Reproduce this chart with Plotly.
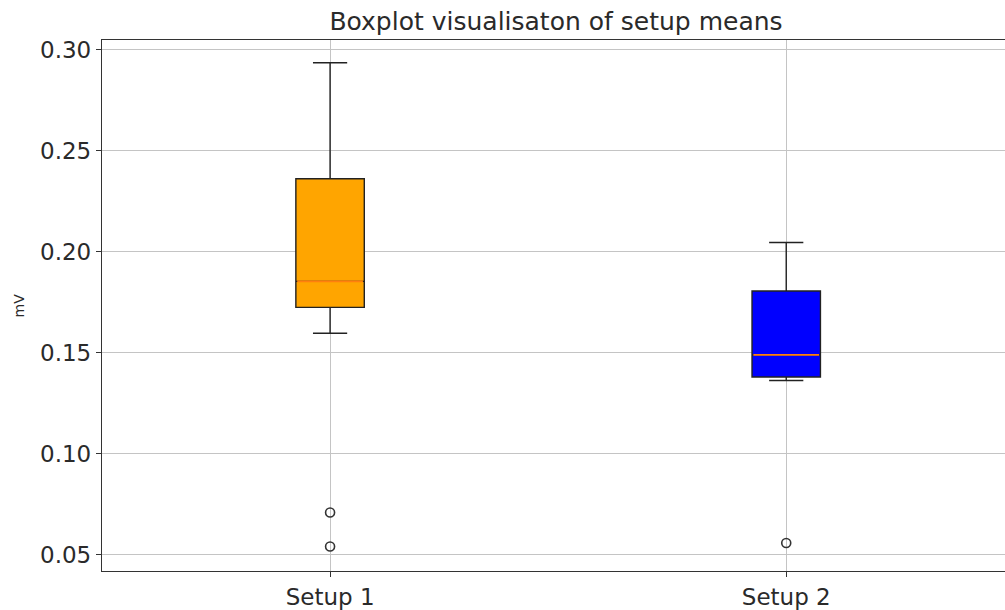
import plotly.graph_objects as go

# Data
setups = ["Setup 1", "Setup 2"]
positions = [1, 2]
q1 = [0.1725, 0.1380]
median = [0.1854, 0.1490]
q3 = [0.2362, 0.1806]
lower_whisker = [0.1597, 0.1363]
upper_whisker = [0.2936, 0.2046]
outliers_setup1 = [0.0709, 0.0541]
outliers_setup2 = [0.0558]
fill_colors = ["orange", "blue"]
y_ticks = [0.05, 0.10, 0.15, 0.20, 0.25, 0.30]

BOX_W = 0.15
FONT = "DejaVu Sans"
TXT = "#2a2a2a"

fig = go.Figure()

for i in range(len(setups)):
    fig.add_trace(go.Box(
        x=[positions[i]], q1=[q1[i]], median=[median[i]], q3=[q3[i]],
        lowerfence=[lower_whisker[i]], upperfence=[upper_whisker[i]],
        width=BOX_W, whiskerwidth=0.5, fillcolor=fill_colors[i],
        line=dict(color="#222222", width=1.4), boxpoints=False,
        showlegend=False, hoverinfo="skip",
    ))
    # median line in matplotlib orange
    fig.add_trace(go.Scatter(
        x=[positions[i] - BOX_W / 2 + 0.003, positions[i] + BOX_W / 2 - 0.003],
        y=[median[i], median[i]], mode="lines",
        line=dict(color="#ff7f0e", width=1.6), showlegend=False, hoverinfo="skip",
    ))

for pos, outs in zip(positions, [outliers_setup1, outliers_setup2]):
    fig.add_trace(go.Scatter(
        x=[pos] * len(outs), y=outs, mode="markers",
        marker=dict(symbol="circle-open", size=9, color="#333333",
                    line=dict(width=1.6, color="#333333")),
        showlegend=False, hoverinfo="skip",
    ))

fig.update_layout(
    width=1005, height=610,
    margin=dict(l=102, r=0, t=40, b=37),
    paper_bgcolor="white", plot_bgcolor="white",
    font=dict(family=FONT, color=TXT),
    title=dict(text="Boxplot visualisaton of setup means",
               x=556 / 1005, xanchor="center", xref="container",
               y=1 - 21 / 610, yanchor="middle", yref="container",
               font=dict(size=25, family=FONT, color=TXT)),
    xaxis=dict(range=[0.5, 2.4796], tickvals=positions, ticktext=setups,
               showgrid=True, gridcolor="#c4c4c4", gridwidth=1,
               showline=True, linecolor="#333333", linewidth=1.3, mirror=True,
               ticks="outside", ticklen=5, tickcolor="#333333",
               tickfont=dict(size=23, family=FONT, color=TXT),
               zeroline=False, fixedrange=True),
    yaxis=dict(range=[0.04196, 0.3049], tickvals=y_ticks,
               ticktext=[f"{v:.2f}" for v in y_ticks],
               showgrid=True, gridcolor="#c4c4c4", gridwidth=1,
               showline=True, linecolor="#333333", linewidth=1.3, mirror=False,
               ticks="outside", ticklen=5, tickcolor="#333333",
               tickfont=dict(size=23, family=FONT, color=TXT),
               zeroline=False, fixedrange=True),
    annotations=[dict(text="mV", xref="paper", yref="paper",
                      x=(18 - 102) / 903, y=0.5, showarrow=False,
                      textangle=-90, xanchor="center", yanchor="middle",
                      font=dict(size=14, family=FONT, color=TXT))],
)

fig.write_html("out.html")
